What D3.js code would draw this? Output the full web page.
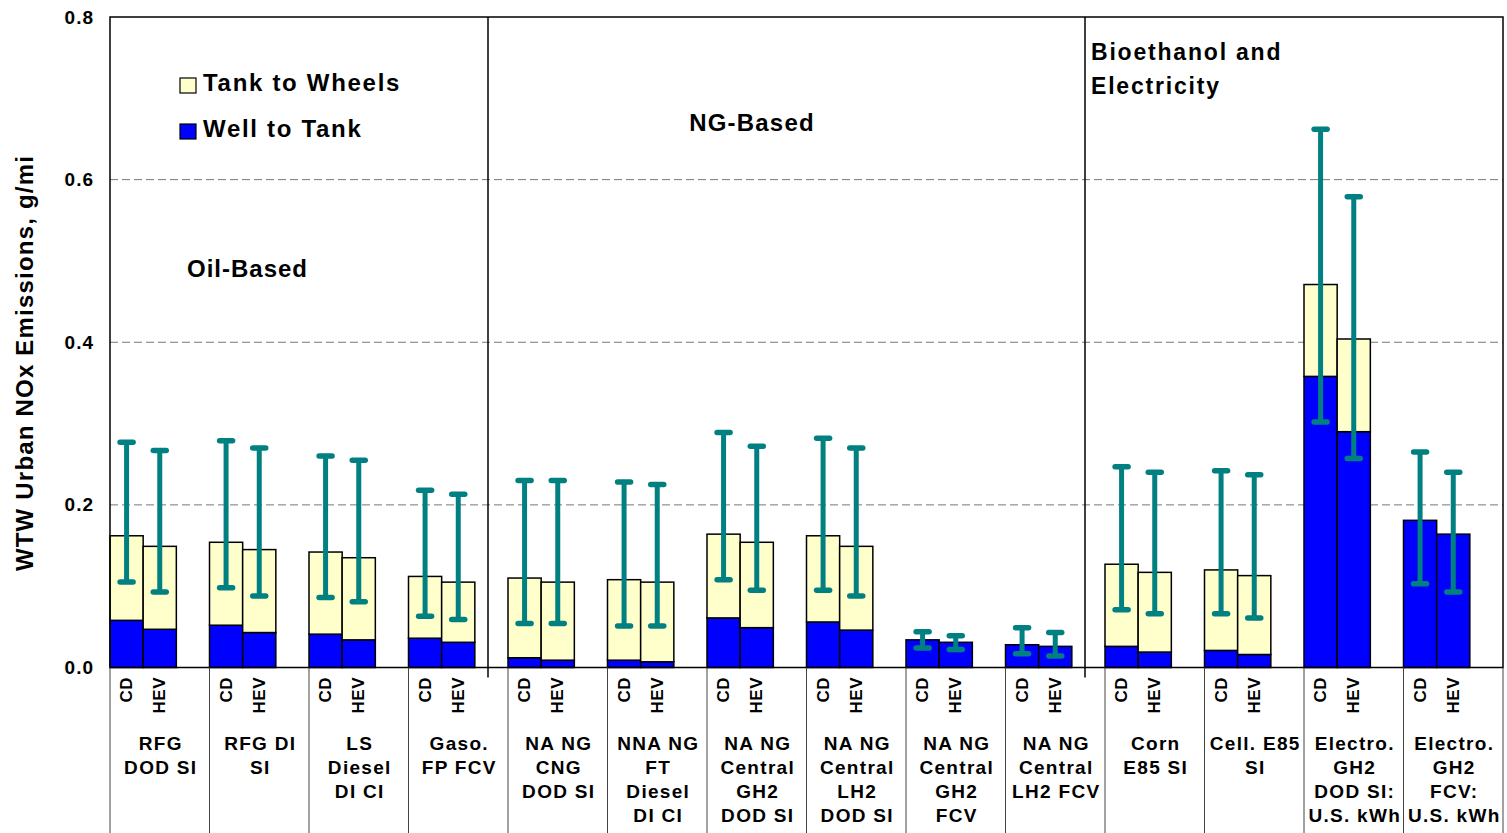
<!DOCTYPE html>
<html>
<head>
<meta charset="utf-8">
<script src="https://cdn.jsdelivr.net/npm/d3@7"></script>
<style>
  body { margin: 0; background: #fff; }
  text { font-family: "Liberation Sans", Arial, sans-serif; font-weight: bold; fill: #000; }
</style>
</head>
<body>
<div id="chart"></div>
<script>
// pathway labels, one array of lines per group
const pathways = [
  ["RFG", "DOD SI"],
  ["RFG DI", "SI"],
  ["LS", "Diesel", "DI CI"],
  ["Gaso.", "FP FCV"],
  ["NA NG", "CNG", "DOD SI"],
  ["NNA NG", "FT", "Diesel", "DI CI"],
  ["NA NG", "Central", "GH2", "DOD SI"],
  ["NA NG", "Central", "LH2", "DOD SI"],
  ["NA NG", "Central", "GH2", "FCV"],
  ["NA NG", "Central", "LH2 FCV"],
  ["Corn", "E85 SI"],
  ["Cell. E85", "SI"],
  ["Electro.", "GH2", "DOD SI:", "U.S. kWh"],
  ["Electro.", "GH2", "FCV:", "U.S. kWh"]
];
const vehicles = ["CD", "HEV"];

// g/mi, [CD, HEV] per pathway
const wellToTank = [
  [0.058, 0.047], [0.052, 0.043], [0.041, 0.034], [0.036, 0.031],
  [0.012, 0.009], [0.009, 0.007], [0.061, 0.049], [0.056, 0.046],
  [0.034, 0.031], [0.028, 0.026], [0.026, 0.019], [0.021, 0.016],
  [0.358, 0.290], [0.181, 0.164]
];
const tankToWheels = [
  [0.104, 0.102], [0.102, 0.102], [0.101, 0.101], [0.076, 0.074],
  [0.098, 0.096], [0.099, 0.098], [0.103, 0.105], [0.106, 0.103],
  [0, 0], [0, 0], [0.101, 0.098], [0.099, 0.097],
  [0.113, 0.114], [0, 0]
];
const errLow = [
  [0.105, 0.093], [0.098, 0.088], [0.086, 0.081], [0.063, 0.059],
  [0.054, 0.054], [0.051, 0.051], [0.108, 0.095], [0.095, 0.088],
  [0.024, 0.022], [0.017, 0.014], [0.071, 0.066], [0.066, 0.061],
  [0.302, 0.257], [0.103, 0.093]
];
const errHigh = [
  [0.277, 0.267], [0.279, 0.270], [0.260, 0.255], [0.218, 0.213],
  [0.230, 0.230], [0.228, 0.225], [0.289, 0.272], [0.282, 0.270],
  [0.044, 0.039], [0.049, 0.043], [0.247, 0.240], [0.242, 0.237],
  [0.662, 0.579], [0.265, 0.240]
];
const yTicks = [0, 0.2, 0.4, 0.6, 0.8];
const sections = [
  { lines: ["Oil-Based"], group: 0 },
  { lines: ["NG-Based"], group: 4 },
  { lines: ["Bioethanol and", "Electricity"], group: 10 }
];

const width = 1507, height = 833;
const plotLeft = 110, plotRight = 1503, plotTop = 17, plotBottom = 667.5;

const svg = d3.select("#chart").append("svg")
  .attr("width", width)
  .attr("height", height);

const x = d3.scaleBand().domain(d3.range(pathways.length)).range([plotLeft, plotRight]);
const slot = d3.scaleBand().domain(["CD", "HEV", "gap"]).range([0, x.bandwidth()]);
const y = d3.scaleLinear().domain([0, 0.8]).range([plotBottom, plotTop]);

// flatten into bars
const bars = [];
pathways.forEach((p, i) => {
  vehicles.forEach((v, j) => {
    bars.push({
      group: i, vehicle: v,
      wtt: wellToTank[i][j], ttw: tankToWheels[i][j],
      lo: errLow[i][j], hi: errHigh[i][j]
    });
  });
});
const barX = d => x(d.group) + slot(d.vehicle);
const barCx = d => barX(d) + slot.bandwidth() / 2;

// gridlines
svg.append("g")
  .selectAll("line")
  .data(yTicks.filter(t => t > 0 && t < 0.8))
  .enter().append("line")
  .attr("x1", plotLeft).attr("x2", plotRight)
  .attr("y1", d => y(d)).attr("y2", d => y(d))
  .style("stroke", "#777")
  .style("stroke-width", 1)
  .style("stroke-dasharray", "8,4");

// y axis labels
const yAxis = svg.append("g")
  .attr("transform", `translate(${plotLeft},0)`)
  .call(d3.axisLeft(y).tickValues(yTicks).tickFormat(d3.format(".1f")).tickSize(0).tickPadding(16));
yAxis.select(".domain").remove();
yAxis.selectAll("text")
  .style("font-family", "'Liberation Sans', Arial, sans-serif")
  .style("font-weight", "bold")
  .style("font-size", "19px")
  .style("letter-spacing", "1px")
  .attr("fill", "#000");

svg.append("text")
  .attr("transform", "translate(33, 363) rotate(-90)")
  .style("text-anchor", "middle")
  .style("font-size", "24px")
  .style("letter-spacing", "1.2px")
  .text("WTW Urban NOx Emissions, g/mi");

// stacked bars
const barG = svg.append("g");
barG.selectAll("rect.wtt")
  .data(bars)
  .enter().append("rect")
  .attr("class", "wtt")
  .attr("x", barX)
  .attr("width", slot.bandwidth())
  .attr("y", d => y(d.wtt))
  .attr("height", d => y(0) - y(d.wtt))
  .style("fill", "#0000ff")
  .style("stroke", "#000")
  .style("stroke-width", 1.5);

barG.selectAll("rect.ttw")
  .data(bars.filter(d => d.ttw > 0))
  .enter().append("rect")
  .attr("class", "ttw")
  .attr("x", barX)
  .attr("width", slot.bandwidth())
  .attr("y", d => y(d.wtt + d.ttw))
  .attr("height", d => y(d.wtt) - y(d.wtt + d.ttw))
  .style("fill", "#ffffcc")
  .style("stroke", "#000")
  .style("stroke-width", 1.5);

// frame
svg.append("rect")
  .attr("x", plotLeft).attr("y", plotTop)
  .attr("width", plotRight - plotLeft).attr("height", plotBottom - plotTop)
  .style("fill", "none")
  .style("stroke", "#000")
  .style("stroke-width", 1.5);

// section separators
[4, 10].forEach(g => {
  svg.append("line")
    .attr("x1", x(g) - 20).attr("x2", x(g) - 20)
    .attr("y1", plotTop).attr("y2", plotBottom + 10)
    .style("stroke", "#000")
    .style("stroke-width", 1.5);
});

// error bars
const errG = svg.append("g")
  .style("stroke", "#008080")
  .style("stroke-width", 5.5)
  .style("stroke-linecap", "round");
errG.selectAll("line.stem")
  .data(bars)
  .enter().append("line")
  .attr("class", "stem")
  .attr("x1", barCx).attr("x2", barCx)
  .attr("y1", d => y(d.lo)).attr("y2", d => y(d.hi))
  .style("stroke-width", 5)
  .style("stroke-linecap", "butt");
["lo", "hi"].forEach(k => {
  errG.selectAll("line.cap-" + k)
    .data(bars)
    .enter().append("line")
    .attr("class", "cap-" + k)
    .attr("x1", d => barCx(d) - 6.5).attr("x2", d => barCx(d) + 6.5)
    .attr("y1", d => y(d[k])).attr("y2", d => y(d[k]));
});

// legend
const legend = [
  { label: "Tank to Wheels", color: "#ffffcc", y: 78 },
  { label: "Well to Tank", color: "#0000ff", y: 124 }
];
legend.forEach(l => {
  svg.append("rect")
    .attr("x", 180).attr("y", l.y)
    .attr("width", 16).attr("height", 15)
    .style("fill", l.color)
    .style("stroke", "#000")
    .style("stroke-width", 1.2);
  svg.append("text")
    .attr("x", 203).attr("y", l.y + 13)
    .style("font-size", "24px")
    .style("letter-spacing", "1.7px")
    .text(l.label);
});

// section titles
svg.append("text").attr("x", 187).attr("y", 277)
  .style("font-size", "24px").style("letter-spacing", "1px")
  .text(sections[0].lines[0]);
svg.append("text").attr("x", 752).attr("y", 131)
  .style("font-size", "24px").style("letter-spacing", "1.2px")
  .style("text-anchor", "middle")
  .text(sections[1].lines[0]);
sections[2].lines.forEach((t, i) => {
  svg.append("text").attr("x", 1091).attr("y", 60 + i * 34)
    .style("font-size", "23px").style("letter-spacing", "1.8px")
    .text(t);
});

// category table lines
svg.append("g")
  .selectAll("line")
  .data(d3.range(pathways.length + 1))
  .enter().append("line")
  .attr("x1", i => i < pathways.length ? x(i) : plotRight)
  .attr("x2", i => i < pathways.length ? x(i) : plotRight)
  .attr("y1", plotBottom).attr("y2", height)
  .style("stroke", "#444")
  .style("stroke-width", 1);

// vehicle labels
svg.append("g")
  .selectAll("text")
  .data(bars)
  .enter().append("text")
  .attr("transform", d => `translate(${barCx(d) + 5.5}, 677) rotate(-90)`)
  .style("text-anchor", "end")
  .style("font-size", "17px")
  .style("letter-spacing", "0.5px")
  .text(d => d.vehicle);

// pathway labels
pathways.forEach((lines, i) => {
  const t = svg.append("text")
    .attr("x", x(i) + x.bandwidth() / 2 + 1)
    .style("text-anchor", "middle")
    .style("font-size", "19px")
    .style("letter-spacing", "1.3px");
  lines.forEach((line, k) => {
    t.append("tspan")
      .attr("x", x(i) + x.bandwidth() / 2 + 1)
      .attr("y", 750 + k * 24)
      .text(line);
  });
});
</script>
</body>
</html>
